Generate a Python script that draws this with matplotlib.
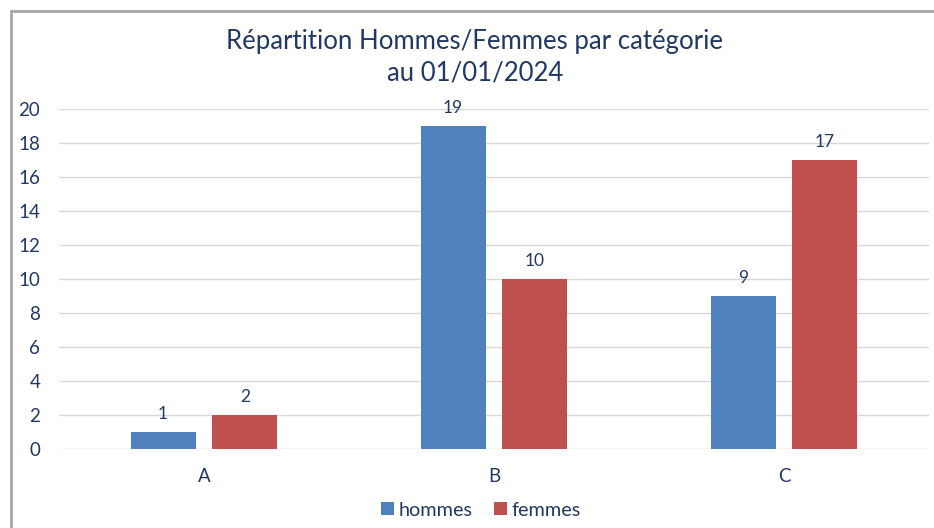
import matplotlib
matplotlib.use("Agg")
import matplotlib.pyplot as plt
from matplotlib.patches import Rectangle
import numpy as np

categories = ["A", "B", "C"]
hommes = [1, 19, 9]
femmes = [2, 10, 17]
yticks = [0, 2, 4, 6, 8, 10, 12, 14, 16, 18, 20]

plt.rcParams['font.family'] = ['Lato', 'DejaVu Sans']
txt = '#203864'

W, H = 934, 528
fig = plt.figure(figsize=(W/100, H/100), dpi=100)
ax = fig.add_axes([59/W, 1-449/H, 870/W, 340/H])

x = np.arange(len(categories))
bw = 0.224
off = 0.141
b1 = ax.bar(x - off, hommes, bw, color='#4f81bd', label='hommes', zorder=3)
b2 = ax.bar(x + off, femmes, bw, color='#c0504d', label='femmes', zorder=3)
for bars in (b1, b2):
    ax.bar_label(bars, padding=7, color=txt, fontsize=12.5)

ax.set_xlim(-0.5, 2.5)
ax.set_ylim(0, 20)
ax.set_yticks(yticks)
ax.set_xticks(x)
ax.set_xticklabels(categories)
ax.tick_params(axis='both', length=0, labelsize=13.5, colors=txt)
ax.tick_params(axis='y', pad=13.5)
ax.tick_params(axis='x', pad=14)
ax.grid(axis='y', color='#d9d9d9', linewidth=1, zorder=0)
for s in ax.spines.values():
    s.set_visible(False)

fig.text(475/W, 1-42/H, "Répartition Hommes/Femmes par catégorie", ha='center', va='center', fontsize=18.5, color=txt)
fig.text(475/W, 1-73/H, "au 01/01/2024", ha='center', va='center', fontsize=18.5, color=txt)

leg = fig.legend(loc='center', bbox_to_anchor=(481/W, 1-510/H), ncol=2, frameon=False,
                 fontsize=14.3, handlelength=0.65, handleheight=0.65, handletextpad=0.25, columnspacing=1.05)
for t in leg.get_texts():
    t.set_color(txt)

fig.patches.append(Rectangle((11/W, -0.05), 1.0, 1-11/H+0.05, transform=fig.transFigure,
                             fill=False, edgecolor='#a6a6a6', linewidth=2, zorder=10))

fig.savefig("out.png", dpi=100)
